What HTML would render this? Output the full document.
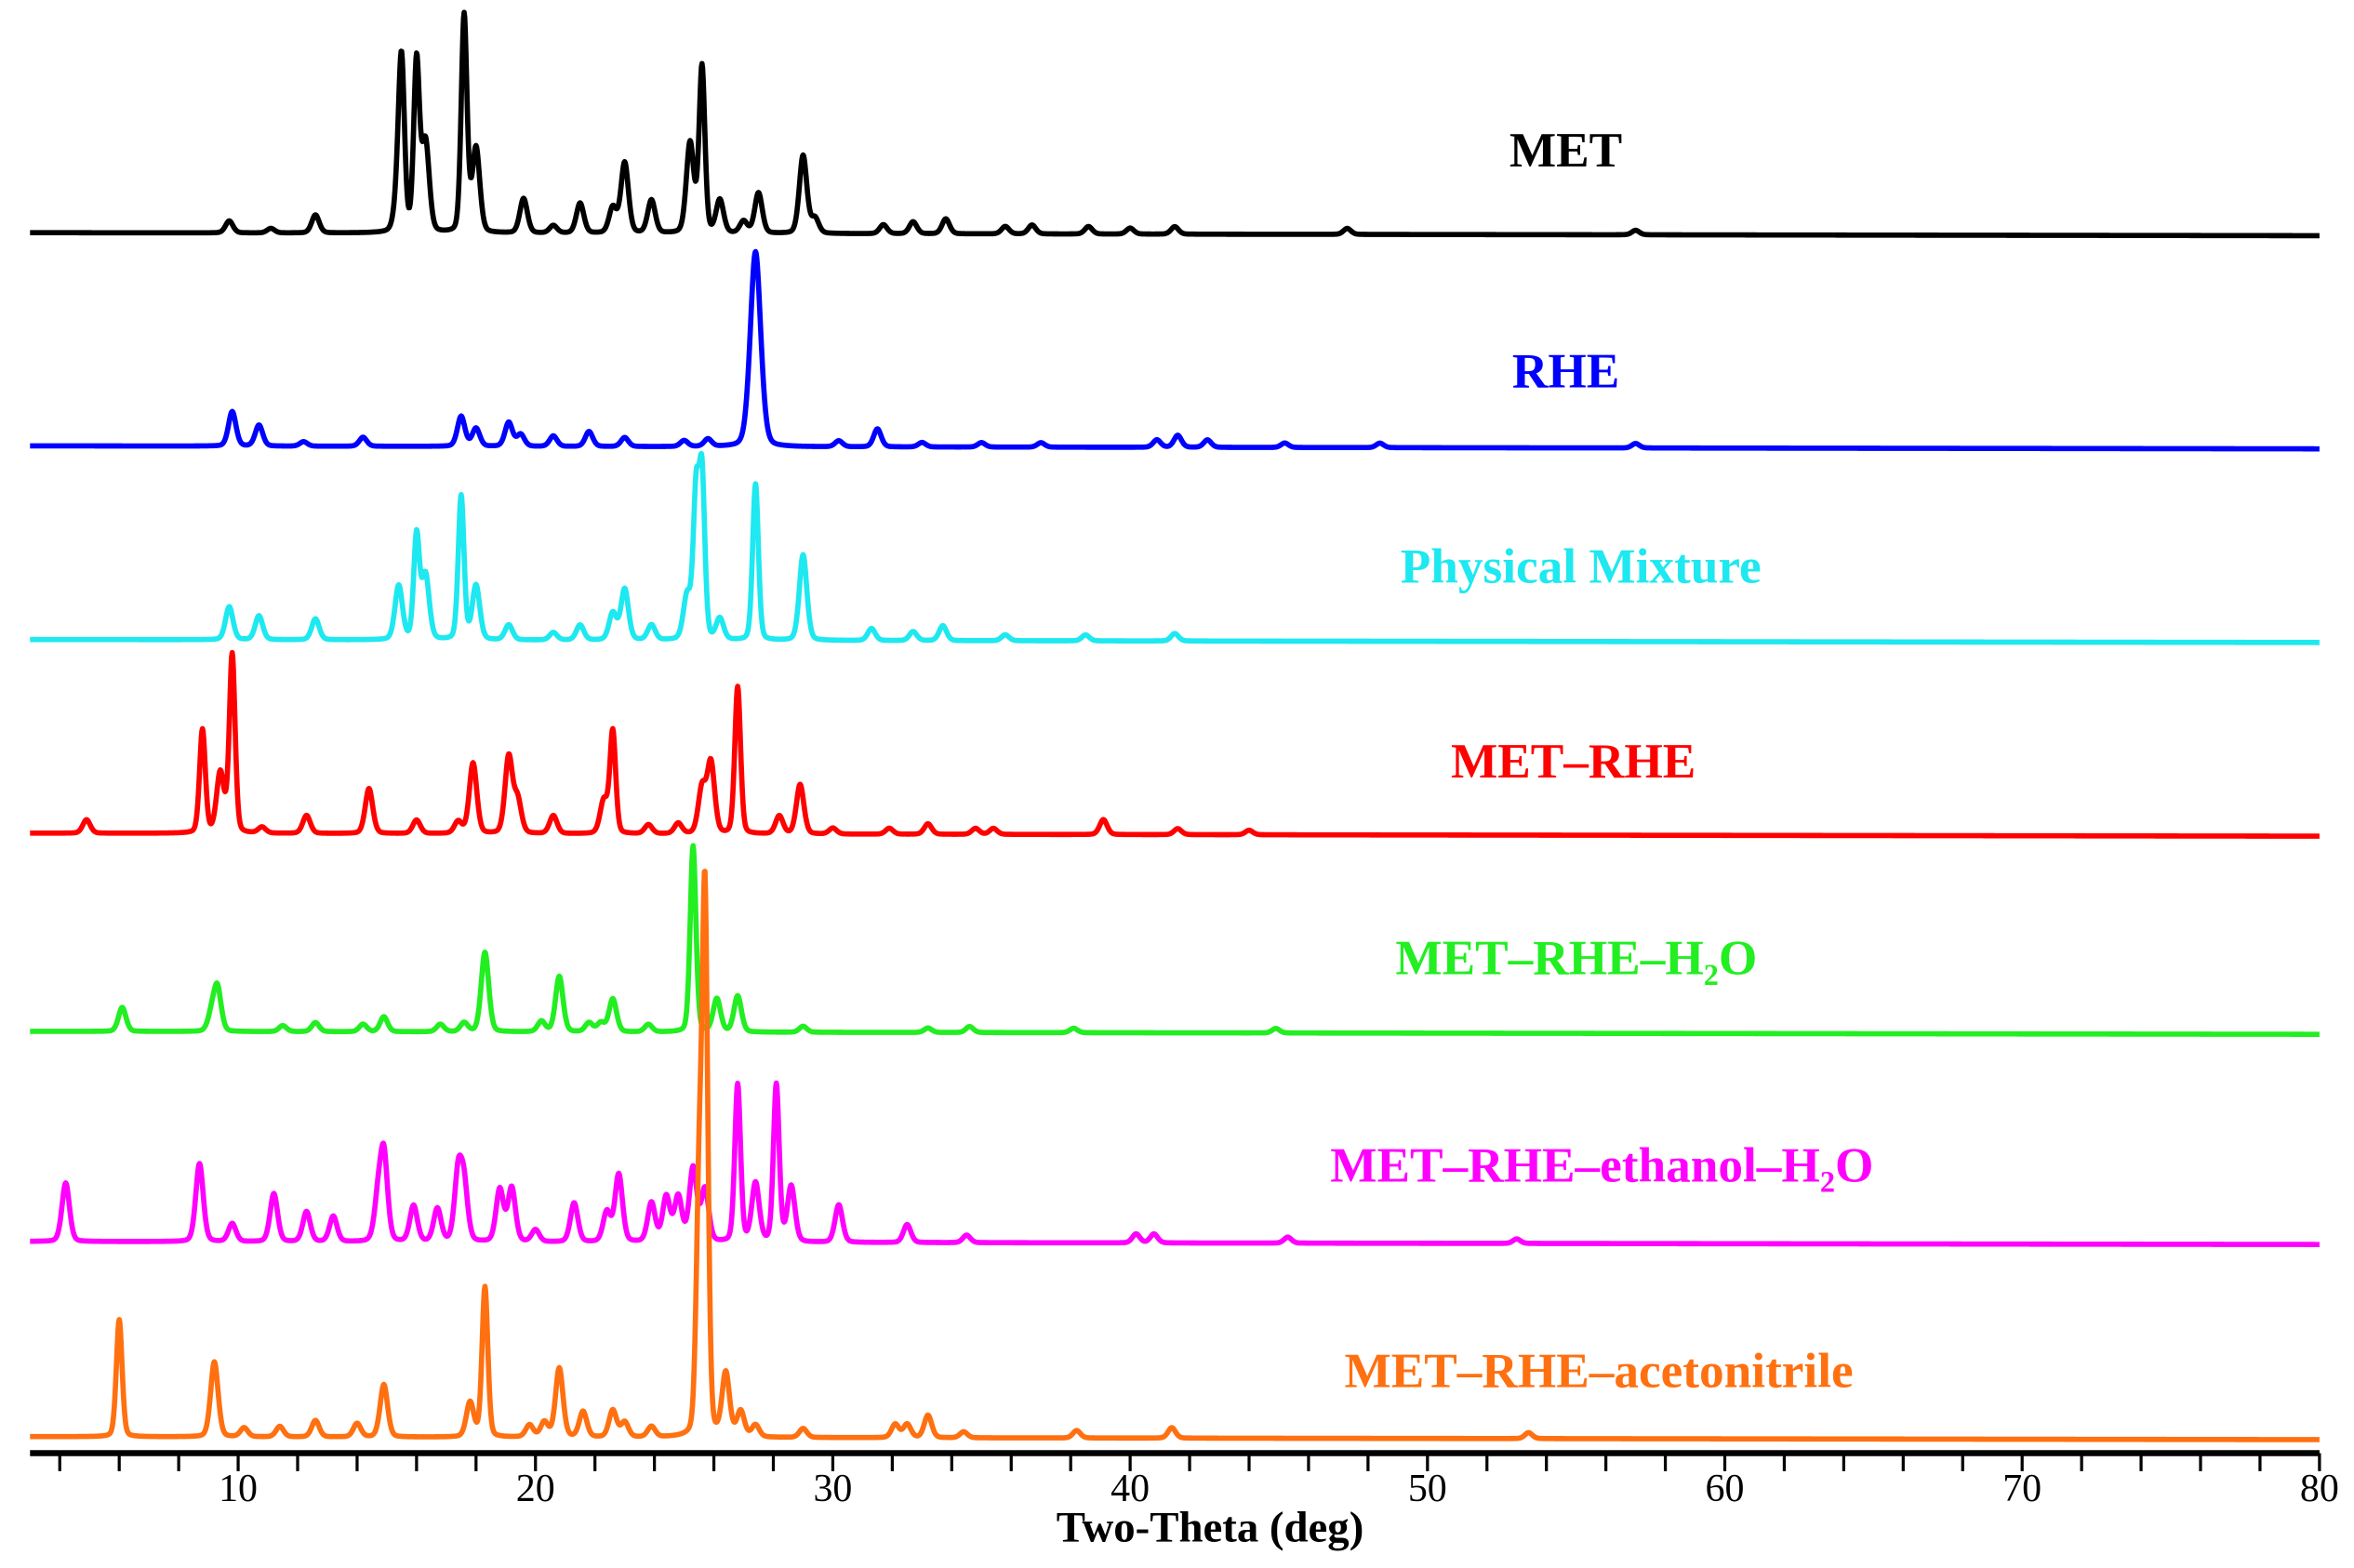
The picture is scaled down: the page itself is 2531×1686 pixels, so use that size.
<!DOCTYPE html>
<html><head><meta charset="utf-8"><style>
html,body{margin:0;padding:0;background:#fff;}
svg{display:block;}
text{font-family:"Liberation Serif",serif;}
</style></head><body>
<svg id="chart" width="2531" height="1686" viewBox="0 0 1568 1044.5" xmlns="http://www.w3.org/2000/svg">
<g id="series"></g>
<g id="axis"></g>
</svg>
<script>
const xMin = 3, xMax = 80;
const seriesNames = ["MET","RHE","Physical Mixture","MET–RHE","MET–RHE–H2O","MET–RHE–ethanol–H2O","MET–RHE–acetonitrile"];
const seriesColors = ["#000000","#0000ff","#1ee8f0","#ff0000","#22ee22","#ff00ff","#ff7010"];
const baselines = [155,297,426,555,687,827,957];
const labelX = [1043,1043,1053,1048,1050,1067,1065];
const labelY = [100,247,377,507,638,776,913];
const tickLabels = [10,20,30,40,50,60,70,80];

const metPos = [9.7,11.1,12.6,15.4,15.5,16.0,16.3,17.6,18.0,19.6,20.6,21.5,22.6,23.0,23.9,25.2,25.6,26.2,27.0,27.5,29.0,29.4,31.7,32.7,33.8,35.8,36.7,38.6,40.0,41.5,47.3,57.0];
const metH   = [8,3,12,30,98,113,60,145,56,23,5,20,17,47,22,60,111,22,8,27,52,10,6,8,10,5,6,5,4,5,4,3];
const rhePos = [9.8,10.7,12.2,14.2,17.5,18.0,19.1,19.5,20.6,21.8,23.0,25.0,25.8,27.4,30.2,31.5,33.0,35.0,37.0,40.9,41.6,42.6,45.2,48.4,57.0];
const rheH   = [23,14,3,6,20,12,16,8,7,10,6,4,5,130,4,12,3,3,3,5,8,5,3,3,3];
const pmPos = [9.7,10.7,12.6,15.4,16.0,16.3,17.5,18.0,19.1,20.6,21.5,22.6,23.0,23.9,25.1,25.4,25.6,26.2,27.4,29.0,31.3,32.7,33.7,35.8,38.5,41.5];
const pmH   = [22,16,14,36,69,43,96,36,10,5,10,18,34,10,29,93,107,14,104,57,8,6,10,4,4,5];
const mrPos = [4.9,8.8,9.4,9.8,10.8,12.3,14.4,16.0,17.4,17.9,19.1,19.4,20.6,22.3,22.6,23.8,24.8,25.6,25.9,26.8,28.2,28.9,30.0,31.9,33.2,34.8,35.4,39.1,41.6,44.0];
const mrH   = [9,69,40,119,4,12,30,9,8,47,51,22,12,22,68,6,7,30,47,98,12,33,4,4,7,4,4,10,4,3];
const h2oPos = [6.1,9.1,9.3,11.5,12.6,14.2,14.9,16.8,17.6,18.3,20.2,20.8,21.8,22.2,22.6,23.8,25.3,26.1,26.8,29.0,33.2,34.6,38.1,44.9];
const h2oH   = [16,10,29,4,6,5,10,5,6,53,7,37,6,6,22,5,124,22,24,4,3,4,3,3];
const ethPos = [4.2,8.7,9.8,11.2,12.3,13.2,14.7,14.9,15.9,16.7,17.4,17.6,18.8,19.2,20.0,21.3,22.4,22.8,23.9,24.4,24.8,25.3,25.7,26.8,27.4,28.1,28.6,30.2,32.5,34.5,40.2,40.8,45.3,53.0];
const ethH   = [39,52,12,32,20,17,25,57,24,22,44,35,35,36,8,26,20,45,26,30,30,49,35,105,39,105,37,25,12,5,6,6,4,3];
const acnPos = [6.0,9.2,10.2,11.4,12.6,14.0,14.9,17.8,18.3,19.8,20.3,20.8,21.6,22.6,23.0,23.9,25.5,25.7,26.4,26.9,27.4,29.0,32.1,32.5,33.2,34.4,38.2,41.4,53.4];
const acnH   = [78,50,6,7,11,9,35,23,100,8,10,46,17,18,10,7,150,354,42,17,8,6,9,9,15,4,5,7,4];
const posArr = [metPos,rhePos,pmPos,mrPos,h2oPos,ethPos,acnPos];
const hArr = [metH,rheH,pmH,mrH,h2oH,ethH,acnH];

const L = 20, R = 1545, axisY = 968;
function xs(v){ return L + (v - xMin) / (xMax - xMin) * (R - L); }
function ys(base, h, x){ return base + (x - xMin)/(xMax-xMin)*2 - h; }

const NS = "http://www.w3.org/2000/svg";
const gS = document.getElementById('series');
for (let s = 0; s < seriesNames.length; s++) {
  const pos = posArr[s], hs = hArr[s];
  let d = "";
  for (let x = xMin; x <= xMax + 1e-9; x += 0.02) {
    let h = 0;
    for (let k = 0; k < pos.length; k++) {
      const w = (s === 1 && pos[k] === 27.4) ? 0.18 : (hs[k] > 60 ? 0.1 : 0.13);
      const dx = (x - pos[k]) / w;
      h += hs[k] * (0.75 * Math.exp(-dx*dx/2) + 0.25 / (1 + dx*dx/ 1.0));
    }
    d += (d ? "L" : "M") + xs(x).toFixed(2) + "," + ys(baselines[s], h, x).toFixed(2);
  }
  const p = document.createElementNS(NS, 'path');
  p.setAttribute('d', d);
  p.setAttribute('fill', 'none');
  p.setAttribute('stroke', seriesColors[s]);
  p.setAttribute('stroke-width', '3.5');
  p.setAttribute('stroke-linejoin', 'round');
  
  
  gS.appendChild(p);
  const t = document.createElementNS(NS, 'text');
  t.setAttribute('x', labelX[s]);
  t.setAttribute('y', labelY[s] + 11);
  t.setAttribute('text-anchor', 'middle');
  t.setAttribute('font-size', '33');
  t.setAttribute('font-weight', 'bold');
  t.setAttribute('fill', seriesColors[s]);
  
  
  const nm = seriesNames[s];
  if (nm.endsWith('H2O')) {
    t.appendChild(document.createTextNode(nm.slice(0, -2)));
    const sub = document.createElementNS(NS, 'tspan');
    sub.setAttribute('font-size', '20'); sub.setAttribute('dy', '7');
    sub.textContent = '2';
    t.appendChild(sub);
    const o = document.createElementNS(NS, 'tspan');
    o.setAttribute('dy', '-7'); o.textContent = 'O';
    t.appendChild(o);
  } else t.textContent = nm;
  gS.appendChild(t);
}

const gA = document.getElementById('axis');
const line = document.createElementNS(NS, 'line');
line.setAttribute('x1', L); line.setAttribute('x2', R);
line.setAttribute('y1', axisY); line.setAttribute('y2', axisY);
line.setAttribute('stroke', '#000'); line.setAttribute('stroke-width', '4');


gA.appendChild(line);
for (let v = 4; v <= 80; v += 2) {
  const tk = document.createElementNS(NS, 'line');
  tk.setAttribute('x1', xs(v)); tk.setAttribute('x2', xs(v));
  tk.setAttribute('y1', axisY); tk.setAttribute('y2', axisY + 12);
  tk.setAttribute('stroke', '#000'); tk.setAttribute('stroke-width', '2');
  
  
  gA.appendChild(tk);
}
for (const v of tickLabels) {
  const t = document.createElementNS(NS, 'text');
  t.setAttribute('x', xs(v)); t.setAttribute('y', 1000);
  t.setAttribute('text-anchor', 'middle'); t.setAttribute('font-size', '26');
  
  
  t.textContent = v;
  gA.appendChild(t);
}
const title = document.createElementNS(NS, 'text');
title.setAttribute('x', 806); title.setAttribute('y', 1027);
title.setAttribute('text-anchor', 'middle'); title.setAttribute('font-size', '29');
title.setAttribute('font-weight', 'bold');


title.textContent = 'Two-Theta (deg)';
gA.appendChild(title);
</script>
</body></html>
